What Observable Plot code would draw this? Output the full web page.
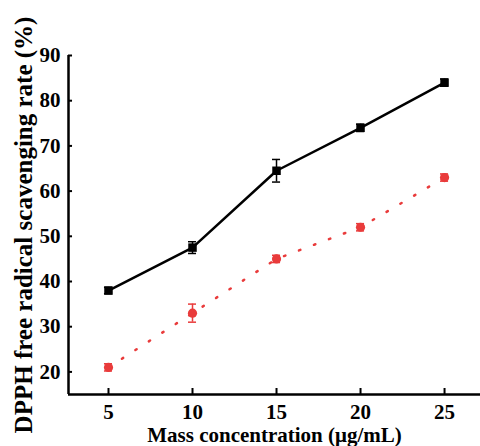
<!DOCTYPE html>
<html>
<head>
<meta charset="utf-8">
<script src="https://cdn.jsdelivr.net/npm/d3@7"></script>
<script src="https://cdn.jsdelivr.net/npm/@observablehq/plot@0.6"></script>
<style>
  html, body { margin: 0; padding: 0; background: #fff; }
</style>
</head>
<body>
<div id="chart"></div>
<script>
// Data
const concentrations = [5, 10, 15, 20, 25];
const blackValues = [38, 47.5, 64.5, 74, 84];
const blackErrors = [0.7, 1.3, 2.5, 0.8, 0.8];
const redValues = [21, 33, 45, 52, 63];
const redErrors = [0.8, 2.0, 0.8, 0.8, 0.8];
const xTicks = [5, 10, 15, 20, 25];
const yTicks = [20, 30, 40, 50, 60, 70, 80, 90];
const xTitle = "Mass concentration (μg/mL)";
const yTitle = "DPPH free radical scavenging rate (%)";

const black = concentrations.map((x, i) => ({x, y: blackValues[i], e: blackErrors[i]}));
const red = concentrations.map((x, i) => ({x, y: redValues[i], e: redErrors[i]}));

const xDomain = [2.62, 27.14];
const yDomain = [15, 90];
const redColor = "#e93b3b";
const capHalf = 0.24;

const plot = Plot.plot({
  width: 480,
  height: 446,
  marginLeft: 68,
  marginRight: 0,
  marginTop: 55,
  marginBottom: 52,
  style: {fontFamily: "'Liberation Serif', 'Times New Roman', serif", fontWeight: "bold", fontSize: "21px", color: "#000", background: "#fff"},
  x: {domain: xDomain, axis: null},
  y: {domain: yDomain, axis: null},
  marks: [
    // axes lines
    Plot.ruleY([yDomain[0]], {stroke: "#000", strokeWidth: 2.5}),
    Plot.ruleX([xDomain[0]], {y1: yDomain[0], y2: yDomain[1], stroke: "#000", strokeWidth: 2.5}),
    // inward ticks
    Plot.ruleX(xTicks, {x: d => d, y1: yDomain[0], y2: yDomain[0] + 1.33, stroke: "#000", strokeWidth: 2}),
    Plot.ruleY(yTicks, {y: d => d, x1: xDomain[0], x2: xDomain[0] + 0.24, stroke: "#000", strokeWidth: 2}),
    // tick labels
    Plot.axisX({ticks: xTicks, tickSize: 0, tickPadding: 10, tickFormat: d => String(d), label: null, fontSize: 21, fontWeight: "bold"}),
    Plot.axisY({ticks: yTicks, tickSize: 0, tickPadding: 8, tickFormat: d => String(d), label: null, fontSize: 21, fontWeight: "bold"}),
    // titles
    Plot.text([xTitle], {text: d => d, frameAnchor: "bottom", dy: 41, textAnchor: "middle", lineAnchor: "middle", fontSize: 21, fontWeight: "bold"}),
    Plot.text([yTitle], {text: d => d, frameAnchor: "left", dx: -45, rotate: -90, textAnchor: "middle", lineAnchor: "middle", fontSize: 25, fontWeight: "bold"}),
    // red series
    Plot.line(red, {x: "x", y: "y", stroke: redColor, strokeWidth: 2.5, strokeDasharray: "1.5,14.5"}),
    Plot.ruleX(red, {x: "x", y1: d => d.y - d.e, y2: d => d.y + d.e, stroke: redColor, strokeWidth: 1.5}),
    Plot.ruleY(red, {y: d => d.y + d.e, x1: d => d.x - capHalf, x2: d => d.x + capHalf, stroke: redColor, strokeWidth: 1.5}),
    Plot.ruleY(red, {y: d => d.y - d.e, x1: d => d.x - capHalf, x2: d => d.x + capHalf, stroke: redColor, strokeWidth: 1.5}),
    Plot.dot(red, {x: "x", y: "y", r: 4.6, fill: redColor, stroke: "none"}),
    // black series
    Plot.line(black, {x: "x", y: "y", stroke: "#000", strokeWidth: 2.5}),
    Plot.ruleX(black, {x: "x", y1: d => d.y - d.e, y2: d => d.y + d.e, stroke: "#000", strokeWidth: 1.5}),
    Plot.ruleY(black, {y: d => d.y + d.e, x1: d => d.x - capHalf, x2: d => d.x + capHalf, stroke: "#000", strokeWidth: 1.5}),
    Plot.ruleY(black, {y: d => d.y - d.e, x1: d => d.x - capHalf, x2: d => d.x + capHalf, stroke: "#000", strokeWidth: 1.5}),
    Plot.dot(black, {x: "x", y: "y", r: 4.8, symbol: "square", fill: "#000", stroke: "none"})
  ]
});
document.getElementById("chart").appendChild(plot);
</script>
</body>
</html>
